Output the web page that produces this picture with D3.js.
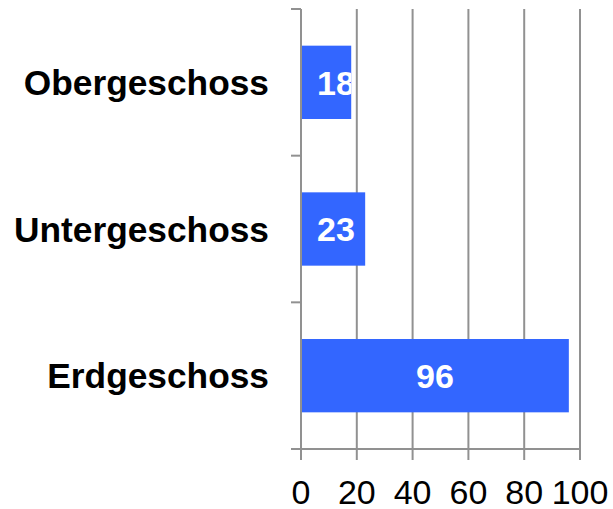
<!DOCTYPE html>
<html>
<head>
<meta charset="utf-8">
<script src="https://cdn.jsdelivr.net/npm/d3@7"></script>
<style>
  body { margin: 0; background: #fff; }
  text { font-family: "Liberation Sans", Arial, sans-serif; }
</style>
</head>
<body>
<div id="chart"></div>
<script>
// data
var categories = ['Obergeschoss', 'Untergeschoss', 'Erdgeschoss'];
var values = [18, 23, 96];
var xTicks = [0, 20, 40, 60, 80, 100];

var width = 613, height = 509;
var margin = {top: 9, right: 33, bottom: 60, left: 301};
var w = width - margin.left - margin.right,
    h = height - margin.top - margin.bottom;

var gridColor = '#919191',
    barColor = '#3366ff';

var svg = d3.select('#chart').append('svg')
  .attr('width', width)
  .attr('height', height)
  .append('g')
  .attr('transform', 'translate(' + margin.left + ',' + margin.top + ')');

var x = d3.scaleLinear().domain([0, 100]).range([0, w]);
var y = d3.scaleBand().domain(categories).range([0, h])
  .paddingInner(0.5).paddingOuter(0.25);

// vertical gridlines
svg.selectAll('line.grid')
  .data(xTicks.slice(1))
  .enter().append('line')
  .attr('class', 'grid')
  .attr('x1', function(d) { return x(d); })
  .attr('x2', function(d) { return x(d); })
  .attr('y1', 0)
  .attr('y2', h)
  .attr('stroke', gridColor)
  .attr('stroke-width', 2);

// bars
var bars = svg.selectAll('g.bar')
  .data(categories)
  .enter().append('g')
  .attr('class', 'bar');

bars.append('clipPath')
  .attr('id', function(d, i) { return 'clip' + i; })
  .append('rect')
  .attr('x', 0)
  .attr('y', function(d) { return y(d); })
  .attr('width', function(d, i) { return x(values[i]); })
  .attr('height', y.bandwidth());

bars.append('rect')
  .attr('x', 0)
  .attr('y', function(d) { return y(d); })
  .attr('width', function(d, i) { return x(values[i]); })
  .attr('height', y.bandwidth())
  .attr('fill', barColor);

// value labels, clipped to the bar
bars.append('text')
  .attr('clip-path', function(d, i) { return 'url(#clip' + i + ')'; })
  .attr('x', function(d, i) { return Math.max(x(values[i]) / 2, 35); })
  .attr('y', function(d) { return y(d) + y.bandwidth() / 2; })
  .attr('dy', '0.36em')
  .attr('text-anchor', 'middle')
  .attr('fill', '#fff')
  .style('font-size', '34px')
  .style('font-weight', 'bold')
  .text(function(d, i) { return values[i]; });

// y axis line and band boundary ticks
svg.append('line')
  .attr('x1', 0).attr('x2', 0)
  .attr('y1', 0).attr('y2', h)
  .attr('stroke', gridColor)
  .attr('stroke-width', 2);

var bounds = d3.range(categories.length + 1).map(function(i) { return i * y.step(); });
svg.selectAll('line.ytick')
  .data(bounds)
  .enter().append('line')
  .attr('class', 'ytick')
  .attr('x1', -10).attr('x2', 0)
  .attr('y1', function(d) { return d; })
  .attr('y2', function(d) { return d; })
  .attr('stroke', gridColor)
  .attr('stroke-width', 2);

// category labels
svg.selectAll('text.cat')
  .data(categories)
  .enter().append('text')
  .attr('class', 'cat')
  .attr('x', -32)
  .attr('y', function(d) { return y(d) + y.bandwidth() / 2; })
  .attr('dy', '0.36em')
  .attr('text-anchor', 'end')
  .attr('fill', '#000')
  .style('font-size', '35.3px')
  .style('font-weight', 'bold')
  .text(function(d) { return d; });

// x axis
svg.append('line')
  .attr('x1', -10).attr('x2', w)
  .attr('y1', h).attr('y2', h)
  .attr('stroke', gridColor)
  .attr('stroke-width', 2);

svg.selectAll('line.xtick')
  .data(xTicks)
  .enter().append('line')
  .attr('class', 'xtick')
  .attr('x1', function(d) { return x(d); })
  .attr('x2', function(d) { return x(d); })
  .attr('y1', h).attr('y2', h + 11)
  .attr('stroke', gridColor)
  .attr('stroke-width', 2);

svg.selectAll('text.xlab')
  .data(xTicks)
  .enter().append('text')
  .attr('class', 'xlab')
  .attr('x', function(d) { return x(d); })
  .attr('y', h + 55)
  .attr('text-anchor', 'middle')
  .attr('fill', '#000')
  .style('font-size', '34px')
  .text(function(d) { return d; });
</script>
</body>
</html>
